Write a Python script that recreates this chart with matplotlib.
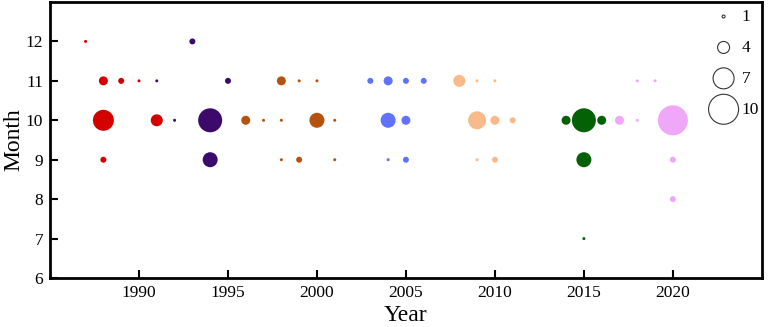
import matplotlib.pyplot as plt

plt.rcParams['font.family'] = ['Liberation Serif', 'DejaVu Serif']

# groups of events: year, month, count
red_year = [1987, 1988, 1988, 1988, 1989, 1990, 1991]
red_month = [12, 11, 10, 9, 11, 11, 10]
red_n = [1, 3, 7, 2, 2, 1, 4]

purple_year = [1991, 1992, 1993, 1994, 1994, 1995]
purple_month = [11, 10, 12, 10, 9, 11]
purple_n = [1, 1, 2, 8, 5, 2]

brown_year = [1996, 1997, 1998, 1998, 1998, 1999, 1999, 2000, 2000, 2001, 2001]
brown_month = [10, 10, 11, 10, 9, 11, 9, 11, 10, 10, 9]
brown_n = [3, 1, 3, 1, 1, 1, 2, 1, 5, 1, 1]

blue_year = [2003, 2004, 2004, 2004, 2005, 2005, 2005, 2006]
blue_month = [11, 11, 10, 9, 11, 10, 9, 11]
blue_n = [2, 3, 5, 1, 2, 3, 2, 2]

peach_year = [2008, 2009, 2009, 2009, 2010, 2010, 2010, 2011]
peach_month = [11, 11, 10, 9, 11, 10, 9, 10]
peach_n = [4, 1, 6, 1, 1, 3, 2, 2]

green_year = [2014, 2015, 2015, 2015, 2016]
green_month = [10, 10, 9, 7, 10]
green_n = [3, 8, 5, 1, 3]

pink_year = [2017, 2018, 2018, 2019, 2020, 2020, 2020]
pink_month = [10, 11, 10, 11, 10, 9, 8]
pink_n = [3, 1, 1, 1, 10, 2, 2]

legend_n = [1, 4, 7, 10]


def size(n):
    # marker diameter ~3 px per count at 100 dpi
    return [(2.16 * v) ** 2 for v in n]


fig = plt.figure(figsize=(7.68, 3.27), dpi=100)
ax = fig.add_axes([0.0651, 0.1498, 0.9269, 0.8441])

ax.scatter(red_year, red_month, s=size(red_n), c='#D40000', lw=0)
ax.scatter(purple_year, purple_month, s=size(purple_n), c='#3B0A6B', lw=0)
ax.scatter(brown_year, brown_month, s=size(brown_n), c='#B5530E', lw=0)
ax.scatter(blue_year, blue_month, s=size(blue_n), c='#6072FF', lw=0)
ax.scatter(peach_year, peach_month, s=size(peach_n), c='#F9BA8B', lw=0)
ax.scatter(green_year, green_month, s=size(green_n), c='#056105', lw=0)
ax.scatter(pink_year, pink_month, s=size(pink_n), c='#EFA8F7', lw=0)

ax.set_xlim(1985, 2025)
ax.set_ylim(6, 13)
ax.set_xticks([1990, 1995, 2000, 2005, 2010, 2015, 2020])
ax.set_yticks([6, 7, 8, 9, 10, 11, 12])
ax.tick_params(direction='in', length=6, width=1.5, labelsize=12.5, pad=5)
for sp in ax.spines.values():
    sp.set_linewidth(2)

ax.set_xlabel('Year', fontsize=17, labelpad=3)
ax.set_ylabel('Month', fontsize=17, labelpad=1)

handles = [ax.scatter([], [], s=size([v])[0], facecolors='none', edgecolors='#333333', lw=0.8)
           for v in legend_n]
ax.legend(handles, [str(v) for v in legend_n], loc='upper right', frameon=False,
          fontsize=12.5, labelspacing=0.85, handletextpad=0.05, borderaxespad=0.0,
          bbox_to_anchor=(1.006, 1.0), scatterpoints=1)

plt.savefig('out.png', dpi=100)
